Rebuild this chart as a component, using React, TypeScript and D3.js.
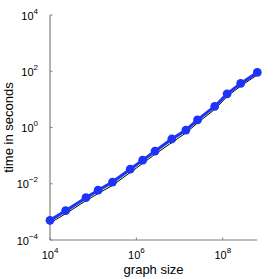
import React, { useEffect, useRef } from 'react';
import * as d3 from 'd3';

// graph sizes (x) and running times in seconds (y)
const sizes = [1.0e4, 2.3e4, 6.8e4, 1.3e5, 2.8e5, 7.2e5, 1.4e6, 2.7e6, 6.6e6, 1.4e7, 2.6e7, 6.5e7, 1.26e8, 2.6e8, 6.3e8];
const timesBlue = [5.0e-4, 1.1e-3, 3.2e-3, 5.9e-3, 1.15e-2, 3.3e-2, 6.9e-2, 0.145, 0.39, 0.81, 1.86, 5.6, 15.8, 37, 91];
const timesBlack = [4.0e-4, 8.6e-4, 2.5e-3, 4.5e-3, 8.8e-3, 2.5e-2, 5.3e-2, 0.112, 0.29, 0.64, 1.45, 4.4, 12.6, 30, 74];
const timesGreen = [4.5e-4, 9.7e-4, 2.8e-3, 5.2e-3, 1.0e-2, 2.9e-2, 6.1e-2, 0.125, 0.34, 0.72, 1.65, 5.0, 14.2, 33.5, 82];

const xTicks = [1e4, 1e6, 1e8];
const yTicks = [1e-4, 1e-2, 1e0, 1e2, 1e4];

function App() {
  const ref = useRef<SVGSVGElement>(null);

  useEffect(() => {
    const svg = d3.select(ref.current);
    svg.selectAll('*').remove();

    const x = d3.scaleLog().domain([1e4, sizes[sizes.length - 1]]).range([50, 257.3]);
    const y = d3.scaleLog().domain([1e-4, 1e4]).range([240, 15]);
    const font = 'Liberation Sans, Arial, sans-serif';
    const axisColor = '#808080';

    // axes (matlab style: left + bottom, ticks pointing in)
    svg.append('line')
      .attr('x1', 50).attr('x2', 50).attr('y1', 15).attr('y2', 240)
      .attr('stroke', axisColor).attr('stroke-width', 1.2);
    svg.append('line')
      .attr('x1', 50).attr('x2', 257.3).attr('y1', 240).attr('y2', 240)
      .attr('stroke', axisColor).attr('stroke-width', 1.2);

    svg.selectAll('.xt')
      .data(xTicks)
      .enter()
      .append('line')
      .attr('x1', d => x(d)).attr('x2', d => x(d))
      .attr('y1', 240).attr('y2', 237.5)
      .attr('stroke', axisColor);
    svg.selectAll('.yt')
      .data(yTicks)
      .enter()
      .append('line')
      .attr('x1', 50).attr('x2', 52.5)
      .attr('y1', d => y(d)).attr('y2', d => y(d))
      .attr('stroke', axisColor);

    const xl = svg.selectAll('.xl')
      .data(xTicks)
      .enter()
      .append('text')
      .attr('x', d => x(d))
      .attr('y', 259)
      .attr('text-anchor', 'middle')
      .style('font-family', font)
      .style('font-size', '11px');
    xl.append('tspan').text('10');
    xl.append('tspan').attr('dy', -6).style('font-size', '8px').text(d => Math.round(Math.log10(d)));

    const yl = svg.selectAll('.yl')
      .data(yTicks)
      .enter()
      .append('text')
      .attr('x', 38)
      .attr('y', d => y(d) + 4.7)
      .attr('text-anchor', 'end')
      .style('font-family', font)
      .style('font-size', '11px');
    yl.append('tspan').text('10');
    yl.append('tspan').attr('dy', -6).style('font-size', '8px')
      .text(d => { const e = Math.round(Math.log10(d)); return e < 0 ? '\u2212' + (-e) : String(e); });

    svg.append('text')
      .attr('x', 153.6).attr('y', 274)
      .attr('text-anchor', 'middle')
      .style('font-family', font).style('font-size', '13px')
      .text('graph size');
    svg.append('text')
      .attr('transform', 'translate(13.3,127.5) rotate(-90)')
      .attr('text-anchor', 'middle')
      .style('font-family', font).style('font-size', '13px')
      .text('time in seconds');

    const line = (vals: number[]) => d3.line<number>()
      .x((_, i) => x(sizes[i]))
      .y(d => y(d))(vals);

    svg.append('path').attr('d', line(timesBlack)).attr('fill', 'none').attr('stroke', '#000').attr('stroke-width', 1);
    svg.append('path').attr('d', line(timesGreen)).attr('fill', 'none').attr('stroke', '#7ad67a').attr('stroke-width', 1);

    svg.append('path').attr('d', line(timesBlue)).attr('fill', 'none').attr('stroke', '#1e32fa').attr('stroke-width', 3);
    svg.selectAll('.pt')
      .data(timesBlue)
      .enter()
      .append('circle')
      .attr('cx', (_, i) => x(sizes[i]))
      .attr('cy', d => y(d))
      .attr('r', 4.4)
      .attr('fill', '#1e32fa');
  }, []);

  return (
    <svg ref={ref} width={274} height={279}
      style={{ position: 'absolute', left: 0, top: 0, background: '#fff' }} />
  );
}

export default App;
